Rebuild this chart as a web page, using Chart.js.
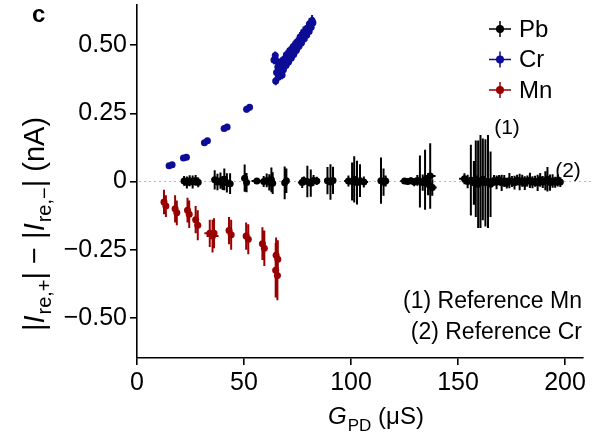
<!DOCTYPE html>
<html>
<head>
<meta charset="utf-8">
<script src="https://cdn.jsdelivr.net/npm/chart.js@4/dist/chart.umd.min.js"></script>
<style>
  html, body { margin: 0; padding: 0; background: #fff; }
  #wrap { width: 598px; height: 434px; }
</style>
</head>
<body>
<div id="wrap"><canvas id="chart" width="598" height="434"></canvas></div>
<script>
// ---- Pb: G_PD (uS), current difference (nA), and their uncertainties ----
const pbX = [22.0, 23.3, 24.6, 26.0, 27.4, 28.6,
  36.3, 37.6, 39.0, 40.0, 40.8, 42.0, 43.5,
  50.3, 51.2, 56.0,
  59.2, 60.6, 61.8, 62.8, 63.4,
  69.0, 69.8,
  77.2, 78.0, 79.6, 81.2, 82.5, 84.0,
  89.0, 90.4, 91.6,
  98.8, 100.5, 101.5, 102.8, 104.2, 106.0,
  114.0, 115.2, 116.2,
  125.0, 126.5, 128.0, 129.5, 131.0, 132.2, 133.5, 134.6, 136.0, 137.0, 138.0,
  153.0, 154.5, 156.0, 157.4, 158.3, 159.4, 160.5, 161.6, 162.8, 164.0, 165.2,
  166.8, 168.0, 169.2, 170.4, 171.6, 172.8, 174.0, 175.2, 176.4, 177.6, 178.8, 180.0, 181.2,
  182.4, 183.6, 184.8, 186.0, 187.2, 188.4, 189.6, 190.8, 191.8, 193.0, 194.2, 195.4, 196.6, 197.8];
const pbY = [0.002, -0.004, 0.003, -0.002, 0.004, -0.003,
  0.006, -0.002, 0.003, -0.006, 0.008, -0.005, -0.008,
  0.012, -0.004, 0.002,
  0.000, 0.004, -0.003, 0.006, -0.006,
  -0.005, 0.003,
  -0.004, 0.003, 0.000, -0.006, 0.004, 0.002,
  0.003, -0.002, 0.004,
  0.002, 0.000, 0.008, -0.004, 0.003, -0.002,
  0.003, -0.002, 0.002,
  0.002, 0.000, 0.003, -0.002, 0.004, 0.000, -0.004, 0.006, -0.010, 0.020, -0.022,
  0.010, 0.000, 0.005, -0.005, 0.010, -0.010, 0.000, 0.008, -0.005, 0.000, -0.010,
  0.004, -0.003, 0.006, -0.005, 0.002, -0.006, 0.003, 0.000, -0.004, 0.005, -0.002, 0.003, -0.006,
  0.002, 0.004, -0.003, 0.001, -0.005, 0.006, -0.002, 0.003, 0.008, -0.004, 0.002, -0.003, 0.004, -0.002];
const pbXErr = [1.2, 1.2, 1.2, 1.2, 1.2, 1.0,
  1.5, 1.5, 1.5, 1.2, 1.5, 1.5, 1.5,
  1.5, 1.2, 2.5,
  1.5, 1.5, 1.5, 1.2, 1.2,
  1.2, 1.0,
  2.0, 2.0, 2.0, 1.5, 2.0, 1.5,
  1.5, 1.2, 1.2,
  2.0, 1.5, 1.5, 1.5, 1.5, 2.0,
  1.5, 1.0, 1.0,
  2.0, 2.0, 2.0, 2.0, 2.0, 2.0, 2.0, 2.0, 2.0, 2.5, 2.0,
  2.5, 2.5, 2.0, 2.0, 2.0, 2.0, 2.0, 2.0, 2.0, 2.0, 2.0,
  1.0, 1.0, 1.0, 1.0, 1.0, 1.0, 1.0, 1.0, 1.0, 1.0, 1.0, 1.0, 1.0,
  1.0, 1.0, 1.0, 1.0, 1.0, 1.0, 1.0, 1.0, 1.0, 1.0, 1.0, 1.0, 1.0, 1.0];
const pbYErr = [0.018, 0.022, 0.020, 0.024, 0.020, 0.018,
  0.035, 0.030, 0.030, 0.025, 0.040, 0.035, 0.038,
  0.050, 0.035, 0.008,
  0.020, 0.025, 0.030, 0.045, 0.040,
  0.060, 0.045,
  0.020, 0.015, 0.058, 0.050, 0.020, 0.015,
  0.050, 0.065, 0.050,
  0.020, 0.070, 0.085, 0.080, 0.060, 0.020,
  0.085, 0.050, 0.020,
  0.008, 0.010, 0.012, 0.015, 0.020, 0.095, 0.030, 0.110, 0.040, 0.120, 0.030,
  0.020, 0.025, 0.130, 0.080, 0.140, 0.160, 0.170, 0.150, 0.160, 0.170, 0.120,
  0.020, 0.025, 0.018, 0.030, 0.022, 0.020, 0.028, 0.020, 0.025, 0.020, 0.030, 0.022, 0.025,
  0.020, 0.028, 0.022, 0.020, 0.030, 0.025, 0.022, 0.035, 0.045, 0.030, 0.025, 0.020, 0.022, 0.018];

// ---- Cr ----
const crX = [15.0, 16.4, 21.7, 23.1, 31.5, 32.9, 40.7, 42.1, 51.2, 52.6,
  64.8, 66.0, 67.2, 68.4, 69.6, 70.8, 72.0, 73.2, 74.4, 75.6, 76.8, 78.0, 79.2, 80.4, 81.4, 82.2,
  64.0, 64.6, 65.6, 66.8, 68.2, 69.8, 71.4, 73.0, 74.6, 76.2, 77.8, 79.4, 80.6, 81.8,
  65.2, 65.8, 67.8, 70.0, 72.5, 75.0, 77.5];
const crY = [0.058, 0.061, 0.086, 0.089, 0.142, 0.149, 0.194, 0.200, 0.265, 0.272,
  0.368, 0.382, 0.397, 0.410, 0.425, 0.438, 0.452, 0.466, 0.480, 0.495, 0.508, 0.522, 0.536, 0.550, 0.565, 0.582,
  0.445, 0.462, 0.440, 0.430, 0.445, 0.465, 0.480, 0.495, 0.510, 0.530, 0.548, 0.562, 0.578, 0.590,
  0.400, 0.420, 0.390, 0.448, 0.478, 0.505, 0.530];
const crXErr = [1.0, 1.0, 1.0, 1.0, 1.0, 1.0, 1.0, 1.0, 1.0, 1.0,
  1.2, 1.2, 1.2, 1.2, 1.2, 1.2, 1.2, 1.2, 1.2, 1.2, 1.2, 1.2, 1.2, 1.2, 1.0, 1.0,
  1.2, 1.2, 1.0, 1.0, 1.2, 1.2, 1.2, 1.2, 1.2, 1.2, 1.2, 1.2, 1.0, 1.0,
  1.0, 1.0, 1.0, 1.2, 1.2, 1.2, 1.2];
const crYErr = [0.006, 0.006, 0.006, 0.006, 0.008, 0.008, 0.008, 0.008, 0.012, 0.012,
  0.015, 0.015, 0.015, 0.016, 0.016, 0.016, 0.018, 0.018, 0.018, 0.018, 0.018, 0.018, 0.02, 0.02, 0.02, 0.02,
  0.015, 0.015, 0.015, 0.015, 0.016, 0.016, 0.016, 0.018, 0.018, 0.018, 0.02, 0.02, 0.02, 0.02,
  0.015, 0.015, 0.015, 0.016, 0.018, 0.018, 0.02];

// ---- Mn ----
const mnX = [12.6, 13.5, 17.8, 18.6, 23.6, 24.4, 27.4, 28.4, 34.0, 35.3, 36.0,
  43.0, 44.0, 51.0, 52.0, 58.6, 59.5, 65.0, 65.8, 64.8, 65.6];
const mnY = [-0.075, -0.090, -0.100, -0.115, -0.105, -0.120, -0.140, -0.160, -0.190, -0.200, -0.190,
  -0.180, -0.195, -0.200, -0.212, -0.228, -0.245, -0.270, -0.285, -0.325, -0.345];
const mnXErr = [0.8, 0.8, 0.8, 0.8, 0.8, 0.8, 1.0, 1.0, 2.5, 2.8, 1.0,
  1.2, 1.2, 1.0, 1.0, 0.8, 0.8, 0.8, 1.0, 1.0, 1.5];
const mnYErr = [0.045, 0.040, 0.050, 0.045, 0.045, 0.050, 0.050, 0.055, 0.050, 0.060, 0.055,
  0.050, 0.055, 0.050, 0.055, 0.060, 0.065, 0.065, 0.070, 0.100, 0.090];

// ---- axes ----
const xTicks = [0, 50, 100, 150, 200];
const yTicks = [-0.5, -0.25, 0, 0.25, 0.5];
const xRange = [0, 208.4];
const yRange = [-0.647, 0.647];

const seriesNames = ['Pb', 'Cr', 'Mn'];
const seriesColors = ['#000000', '#0c0c96', '#990000'];

const FONT = "'Liberation Sans', Arial, Helvetica, sans-serif";

function toPoints(xs, ys, xe, ye) {
  return xs.map((x, i) => ({ x: x, y: ys[i], xErr: xe[i], yErr: ye[i] }));
}

// Error bars drawn beneath each dataset's markers
const errorBars = {
  id: 'errorBars',
  beforeDatasetDraw(chart, args) {
    const ds = chart.data.datasets[args.index];
    const xs = chart.scales.x, ys = chart.scales.y, ctx = chart.ctx;
    ctx.save();
    ctx.strokeStyle = ds.backgroundColor;
    ctx.lineWidth = 2;
    ctx.beginPath();
    ds.data.forEach(p => {
      const px = xs.getPixelForValue(p.x), py = ys.getPixelForValue(p.y);
      ctx.moveTo(xs.getPixelForValue(p.x - p.xErr), py);
      ctx.lineTo(xs.getPixelForValue(p.x + p.xErr), py);
      ctx.moveTo(px, ys.getPixelForValue(p.y + p.yErr));
      ctx.lineTo(px, ys.getPixelForValue(p.y - p.yErr));
    });
    ctx.stroke();
    ctx.restore();
  }
};

// Dotted reference line at zero
const zeroLine = {
  id: 'zeroLine',
  beforeDatasetsDraw(chart) {
    const { ctx, chartArea } = chart;
    const y = chart.scales.y.getPixelForValue(0);
    ctx.save();
    ctx.strokeStyle = '#b8b8b8';
    ctx.lineWidth = 1.2;
    ctx.setLineDash([2, 3]);
    ctx.beginPath();
    ctx.moveTo(chartArea.left + 2, y);
    ctx.lineTo(chartArea.right + 8, y);
    ctx.stroke();
    ctx.restore();
  }
};

// Text made of regular / italic / subscript pieces
function richWidth(ctx, parts, size, subSize) {
  let w = 0;
  parts.forEach(p => {
    ctx.font = (p.i ? 'italic ' : '') + (p.s ? subSize : size) + 'px ' + FONT;
    w += ctx.measureText(p.t).width + (p.i ? 1 : 0);
  });
  return w;
}
function drawRich(ctx, parts, x, y, size, subSize, subDrop) {
  parts.forEach(p => {
    ctx.font = (p.i ? 'italic ' : '') + (p.s ? subSize : size) + 'px ' + FONT;
    ctx.fillText(p.t, x, p.s ? y + subDrop : y);
    x += ctx.measureText(p.t).width + (p.i ? 1 : 0);
  });
}

const labels = {
  id: 'labels',
  afterDraw(chart) {
    const ctx = chart.ctx;
    ctx.save();
    ctx.fillStyle = '#000';
    ctx.textBaseline = 'alphabetic';
    ctx.textAlign = 'left';

    // panel letter
    ctx.font = 'bold 24px ' + FONT;
    ctx.fillText('c', 32, 22);

    // legend
    chart.data.datasets.forEach((ds, i) => {
      const cy = 29 + i * 30.5;
      const cx = 500;
      ctx.strokeStyle = ds.backgroundColor;
      ctx.fillStyle = ds.backgroundColor;
      ctx.lineWidth = 1.5;
      ctx.beginPath();
      ctx.moveTo(cx - 11, cy); ctx.lineTo(cx + 11, cy);
      ctx.moveTo(cx, cy - 8); ctx.lineTo(cx, cy + 8);
      ctx.stroke();
      ctx.beginPath();
      ctx.arc(cx, cy, 4, 0, Math.PI * 2);
      ctx.fill();
      ctx.fillStyle = '#000';
      ctx.font = '24px ' + FONT;
      ctx.textBaseline = 'middle';
      ctx.fillText(ds.label, 519, cy + 1);
    });

    // markers on the reference traces and their key
    ctx.textBaseline = 'middle';
    ctx.font = '21px ' + FONT;
    ctx.textAlign = 'center';
    ctx.fillText('(1)', 507, 128);
    ctx.fillText('(2)', 568, 171);
    ctx.font = '23px ' + FONT;
    ctx.textAlign = 'right';
    ctx.fillText('(1) Reference Mn', 582, 302);
    ctx.fillText('(2) Reference Cr', 582, 333);

    // x-axis title
    ctx.textBaseline = 'alphabetic';
    ctx.textAlign = 'left';
    const xt = [{ t: 'G', i: true }, { t: 'PD', s: true }, { t: ' (\u03bcS)' }];
    const xw = richWidth(ctx, xt, 24, 17);
    drawRich(ctx, xt, 376 - xw / 2, 424, 24, 17, 7);

    // y-axis title, rotated
    const yt = [{ t: '|' }, { t: 'I', i: true }, { t: 're,+', s: true }, { t: '| \u2212 |' },
                { t: 'I', i: true }, { t: 're,\u2212', s: true }, { t: '| (nA)' }];
    ctx.translate(44, 224);
    ctx.rotate(-Math.PI / 2);
    const yw = richWidth(ctx, yt, 29, 20);
    drawRich(ctx, yt, -yw / 2, 0, 29, 20, 7);
    ctx.restore();
  }
};

const fmtY = v => v === 0 ? '0' : (v < 0 ? '\u2212' : '') + Math.abs(v).toFixed(2);

new Chart(document.getElementById('chart'), {
  type: 'scatter',
  data: {
    datasets: [
      { label: seriesNames[0], data: toPoints(pbX, pbY, pbXErr, pbYErr), backgroundColor: seriesColors[0] },
      { label: seriesNames[1], data: toPoints(crX, crY, crXErr, crYErr), backgroundColor: seriesColors[1] },
      { label: seriesNames[2], data: toPoints(mnX, mnY, mnXErr, mnYErr), backgroundColor: seriesColors[2] }
    ]
  },
  options: {
    responsive: false,
    animation: false,
    devicePixelRatio: 1,
    layout: { padding: { left: 0, right: 15, top: 5, bottom: 0 } },
    elements: { point: { radius: 3.5, borderWidth: 0, hoverRadius: 3.5 } },
    plugins: { legend: { display: false }, tooltip: { enabled: false } },
    scales: {
      x: {
        type: 'linear',
        min: xRange[0], max: xRange[1],
        afterBuildTicks: s => { s.ticks = xTicks.map(v => ({ value: v })); },
        afterFit: s => { s.height = 76; s.paddingLeft = 0; s.paddingRight = 0; },
        border: { display: true, color: '#000', width: 1.6 },
        grid: { display: true, drawOnChartArea: false, drawTicks: true, tickLength: 7, color: '#000', lineWidth: 1.6 },
        ticks: { color: '#000', font: { family: FONT, size: 25 }, padding: 3, maxRotation: 0, callback: v => String(v) }
      },
      y: {
        type: 'linear',
        min: yRange[0], max: yRange[1],
        afterBuildTicks: s => { s.ticks = yTicks.map(v => ({ value: v })); },
        afterFit: s => { s.width = 137; s.paddingTop = 0; s.paddingBottom = 0; },
        border: { display: true, color: '#000', width: 1.6 },
        grid: { display: true, drawOnChartArea: false, drawTicks: true, tickLength: 7, color: '#000', lineWidth: 1.6 },
        ticks: { color: '#000', font: { family: FONT, size: 25 }, padding: 3, callback: fmtY }
      }
    }
  },
  plugins: [errorBars, zeroLine, labels]
});
</script>
</body>
</html>
